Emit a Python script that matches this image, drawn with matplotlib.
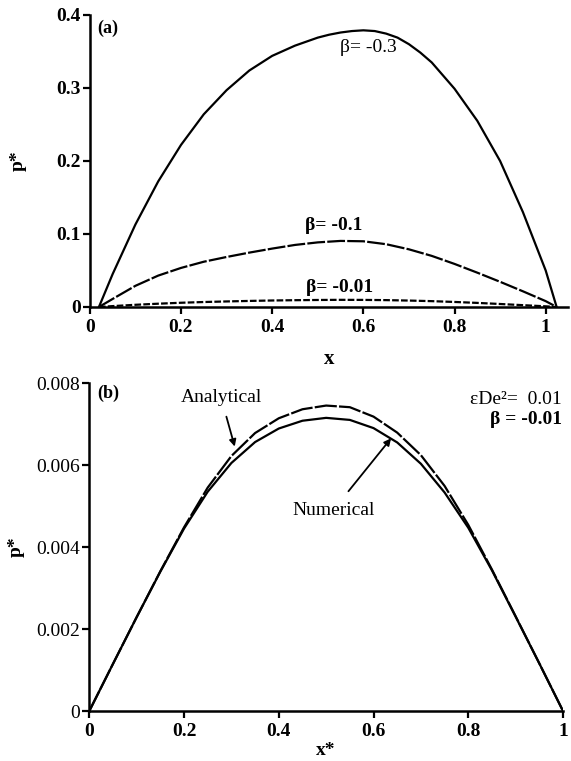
import matplotlib
matplotlib.use("Agg")
import matplotlib.pyplot as plt

# ---------------- data ----------------
# panel (a)
x_b03 = [0.02, 0.05, 0.10, 0.15, 0.20, 0.25, 0.30, 0.35, 0.40, 0.45, 0.50, 0.525,
         0.55, 0.575, 0.60, 0.625, 0.65, 0.675, 0.70, 0.725, 0.75, 0.80, 0.85,
         0.90, 0.95, 1.00, 1.024]
p_beta03 = [0.0, 0.045, 0.113, 0.172, 0.222, 0.264, 0.297, 0.324, 0.344, 0.358, 0.369, 0.373,
            0.376, 0.378, 0.379, 0.378, 0.3745, 0.369, 0.360, 0.3485, 0.335, 0.299, 0.255,
            0.200, 0.130, 0.050, 0.0]
x_a = [0.02, 0.05, 0.10, 0.15, 0.20, 0.25, 0.30, 0.35, 0.40, 0.45, 0.50,
       0.55, 0.60, 0.65, 0.70, 0.75, 0.80, 0.85, 0.90, 0.95, 1.00, 1.024]
p_beta01 = [0.0, 0.011, 0.029, 0.043, 0.0535, 0.062, 0.0685, 0.0745, 0.080, 0.085, 0.0885,
            0.0905, 0.090, 0.086, 0.079, 0.070, 0.059, 0.047, 0.0345, 0.0215, 0.008, 0.0]
p_beta001 = [0.0, 0.0012, 0.003, 0.0045, 0.0058, 0.0068, 0.0076, 0.0083, 0.0089, 0.0093, 0.0096,
             0.0098, 0.0097, 0.0094, 0.0088, 0.0080, 0.0069, 0.0056, 0.0041, 0.0025, 0.0009, 0.0]
labels_a = ["β= -0.3", "β= -0.1", "β= -0.01"]

# panel (b)
x_b = [0.0, 0.05, 0.10, 0.15, 0.20, 0.25, 0.30, 0.35, 0.40, 0.45, 0.50,
       0.55, 0.60, 0.65, 0.70, 0.75, 0.80, 0.85, 0.90, 0.95, 1.00]
p_analytical = [0.0, 0.00115, 0.00229, 0.00341, 0.00448, 0.00545, 0.00622, 0.00678, 0.00714, 0.00736, 0.00745,
                0.00741, 0.00718, 0.00679, 0.00624, 0.00549, 0.00454, 0.00345, 0.00231, 0.00116, 0.0]
p_numerical = [0.0, 0.00115, 0.00229, 0.00340, 0.00445, 0.00535, 0.00605, 0.00656, 0.00689, 0.00708, 0.00715,
               0.00710, 0.00690, 0.00655, 0.00603, 0.00533, 0.00447, 0.00343, 0.00230, 0.00116, 0.0]

xticks_a = [0, 0.2, 0.4, 0.6, 0.8, 1]
xticklabels = ["0", "0.2", "0.4", "0.6", "0.8", "1"]
yticks_a = [0, 0.1, 0.2, 0.3, 0.4]
yticklabels_a = ["0", "0.1", "0.2", "0.3", "0.4"]
yticks_b = [0, 0.002, 0.004, 0.006, 0.008]
yticklabels_b = ["0", "0.002", "0.004", "0.006", "0.008"]

# ---------------- style ----------------
plt.rcParams['font.family'] = ['Liberation Serif', 'DejaVu Serif']
FS = 14

fig = plt.figure(figsize=(5.71, 7.61), dpi=100)
ax1 = fig.add_axes([0.1573, 0.5966, 0.8375, 0.3837])
ax2 = fig.add_axes([0.1564, 0.0657, 0.8296, 0.4310])


def style(ax):
    for s in ("top", "right"):
        ax.spines[s].set_visible(False)
    for s in ("left", "bottom"):
        ax.spines[s].set_linewidth(1.8)
    ax.tick_params(axis="x", direction="out", length=5, width=1.6, pad=3.5)
    ax.tick_params(axis="y", direction="out", length=5, width=1.6, pad=1.5)


# ---------------- panel (a) ----------------
style(ax1)
ax1.plot(x_b03, p_beta03, color="black", lw=1.6)
ax1.plot(x_a, p_beta01, color="black", lw=1.6, dashes=(8, 1))
ax1.plot(x_a, p_beta001, color="black", lw=1.6, dashes=(3, 1))
ax1.set_xlim(0, 1.049)
ax1.set_ylim(0, 0.4)
ax1.set_xticks(xticks_a)
ax1.set_xticklabels(xticklabels, fontsize=FS, fontweight="bold")
ax1.set_yticks(yticks_a)
ax1.set_yticklabels(yticklabels_a, fontsize=FS, fontweight="bold")
ax1.set_xlabel("x", fontsize=FS + 1, fontweight="bold")
ax1.xaxis.set_label_coords(0.5, -0.145)
ax1.set_ylabel("p*", fontsize=FS, fontweight="bold")
ax1.yaxis.set_label_coords(-0.131, 0.5)
ax1.text(0.016, 0.985, "(a)", transform=ax1.transAxes, fontsize=FS - 1,
         fontweight="bold", ha="left", va="top")
ax1.text(0.61, 0.355, labels_a[0], fontsize=FS, ha="center", va="center")
ax1.text(0.536, 0.112, labels_a[1], fontsize=FS, ha="center", va="center",
         fontweight="bold")
ax1.text(0.548, 0.027, labels_a[2], fontsize=FS, ha="center", va="center",
         fontweight="bold")

# ---------------- panel (b) ----------------
style(ax2)
ax2.plot(x_b, p_analytical, color="black", lw=1.6, dashes=(10, 1))
ax2.plot(x_b, p_numerical, color="black", lw=1.6)
ax2.set_xlim(0, 1)
ax2.set_ylim(0, 0.008)
ax2.set_xticks(xticks_a)
ax2.set_xticklabels(xticklabels, fontsize=FS, fontweight="bold")
ax2.set_yticks(yticks_b)
ax2.set_yticklabels(yticklabels_b, fontsize=FS)
ax2.set_xlabel("x*", fontsize=FS, fontweight="bold")
ax2.xaxis.set_label_coords(0.5, -0.095)
ax2.set_ylabel("p*", fontsize=FS, fontweight="bold")
ax2.yaxis.set_label_coords(-0.136, 0.5)
ax2.text(0.016, 0.995, "(b)", transform=ax2.transAxes, fontsize=FS - 1,
         fontweight="bold", ha="left", va="top")

ax2.annotate("Analytical", xy=(0.307, 0.00645), xytext=(0.278, 0.00765),
             fontsize=FS, ha="center", va="center",
             arrowprops=dict(arrowstyle="-|>", color="black", lw=1.3,
                             shrinkA=6, shrinkB=0, mutation_scale=10))
ax2.annotate("Numerical", xy=(0.637, 0.00665), xytext=(0.515, 0.0049),
             fontsize=FS, ha="center", va="center",
             arrowprops=dict(arrowstyle="-|>", color="black", lw=1.3,
                             shrinkA=7, shrinkB=0, mutation_scale=10))
ax2.text(0.998, 0.0076, "εDe²=  0.01", fontsize=FS, ha="right", va="center")
ax2.text(0.998, 0.00712, "β = -0.01", fontsize=FS, ha="right", va="center",
         fontweight="bold")

fig.savefig("out.png", dpi=100)
